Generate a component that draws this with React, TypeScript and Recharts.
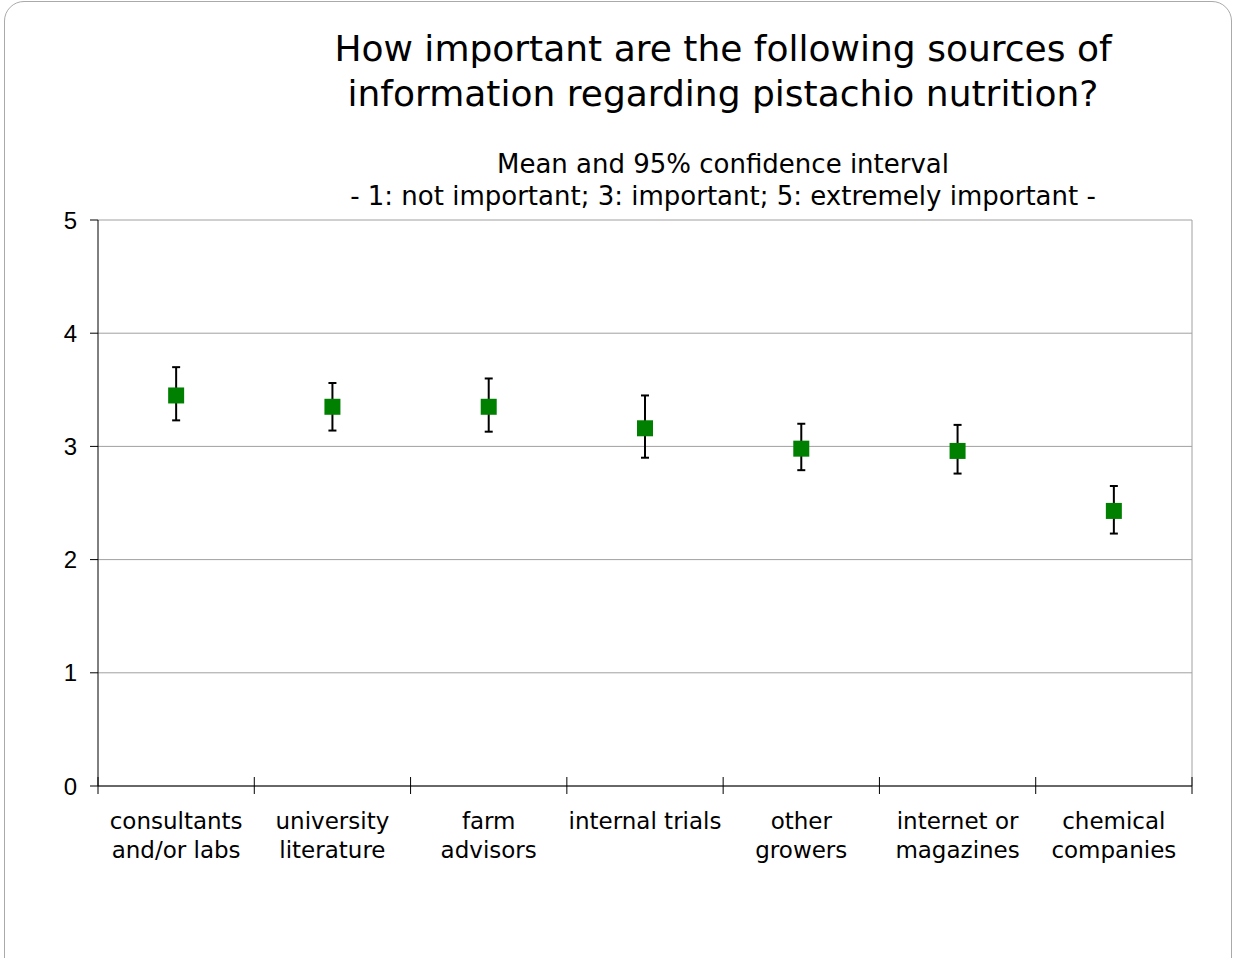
import { ComposedChart, Line, ErrorBar, XAxis, YAxis, CartesianGrid, ReferenceLine } from 'recharts'

const categories = [
  'consultants\nand/or labs',
  'university\nliterature',
  'farm\nadvisors',
  'internal trials',
  'other\ngrowers',
  'internet or\nmagazines',
  'chemical\ncompanies',
]
const means = [3.45, 3.35, 3.35, 3.16, 2.98, 2.96, 2.43]
const upper = [3.70, 3.56, 3.60, 3.45, 3.20, 3.19, 2.65]
const lower = [3.23, 3.14, 3.13, 2.90, 2.79, 2.76, 2.23]
const yTicks = [0, 1, 2, 3, 4, 5]
const boundaryTicks = [0, 1, 2, 3, 4, 5, 6, 7]

const data = categories.map((name, i) => ({
  name,
  pos: i + 0.5,
  mean: means[i],
  err: [means[i] - lower[i], upper[i] - means[i]],
}))

const FONT = '"DejaVu Sans", Verdana, sans-serif'
const blank = () => ''

function SquareDot(props: any) {
  const { cx, cy } = props
  if (cx == null || cy == null) return null
  return <rect x={cx - 8} y={cy - 8} width={16} height={16} fill="#008000" />
}

function CategoryTick(props: any) {
  const { x, y, payload } = props
  const lines = String(payload.value).split('\n')
  return (
    <text x={x} y={y} textAnchor="middle" fill="#000" fontSize={23} fontFamily={FONT}>
      {lines.map((l, i) => (
        <tspan key={i} x={x} dy={i === 0 ? 42 : 29}>
          {l}
        </tspan>
      ))}
    </text>
  )
}

export default function App() {
  return (
    <div style={{ position: 'absolute', left: 0, top: 0, width: 1233, height: 958, overflow: 'hidden', background: '#fff' }}>
      <div
        style={{
          position: 'absolute',
          left: 4,
          top: 1,
          width: 1226,
          height: 990,
          border: '1.5px solid #aaa',
          borderRadius: 20,
        }}
      />
      <div
        style={{
          position: 'absolute',
          left: 273,
          top: 26,
          width: 900,
          textAlign: 'center',
          fontFamily: FONT,
          fontSize: 36,
          lineHeight: '45px',
          color: '#000',
        }}
      >
        How important are the following sources of
        <br />
        information regarding pistachio nutrition?
      </div>
      <div
        style={{
          position: 'absolute',
          left: 273,
          top: 148,
          width: 900,
          textAlign: 'center',
          fontFamily: FONT,
          fontSize: 26,
          lineHeight: '32px',
          color: '#000',
        }}
      >
        Mean and 95% confidence interval
        <br />- 1: not important; 3: important; 5: extremely important -
      </div>
      <div style={{ position: 'absolute', left: 0, top: 0 }}>
        <ComposedChart
          width={1233}
          height={958}
          data={data}
          margin={{ top: 220, right: 41, left: 19, bottom: 71 }}
        >
          <XAxis
            xAxisId="b"
            dataKey="pos"
            type="number"
            domain={[0, 7]}
            allowDataOverflow
            ticks={boundaryTicks}
            interval={0}
            tickFormatter={blank}
            axisLine={{ stroke: '#000' }}
            tickSize={8}
            height={1}
            tickLine={{ stroke: '#000' }}
          />
          <XAxis
            xAxisId="b2"
            dataKey="pos"
            type="number"
            domain={[0, 7]}
            allowDataOverflow
            ticks={boundaryTicks}
            interval={0}
            tickFormatter={blank}
            axisLine={false}
            mirror
            tickSize={9}
            height={1}
            tickLine={{ stroke: '#000' }}
          />
          <XAxis
            xAxisId="cat"
            dataKey="name"
            type="category"
            scale="band"
            tickLine={false}
            tickSize={0}
            tickMargin={0}
            interval={0}
            height={100}
            axisLine={false}
            tick={<CategoryTick />}
          />
          <YAxis
            yAxisId="vm"
            type="number"
            domain={[0, 5]}
            ticks={yTicks}
            mirror
            tickFormatter={blank}
            axisLine={{ stroke: '#000' }}
            tickSize={8}
            width={1}
            tickLine={{ stroke: '#000' }}
          />
          <YAxis
            yAxisId="v"
            type="number"
            domain={[0, 5]}
            ticks={yTicks}
            width={79}
            tickSize={8}
            tickMargin={13}
            axisLine={false}
            tickLine={{ stroke: '#000' }}
            tick={{ fill: '#000', fontSize: 24, fontFamily: '"Liberation Sans", Arial, sans-serif' }}
          />
          <CartesianGrid xAxisId="cat" yAxisId="v" vertical={false} stroke="#a0a0a0" />
          <ReferenceLine xAxisId="b" yAxisId="v" x={7} stroke="#a0a0a0" />
          <Line
            xAxisId="cat"
            yAxisId="v"
            dataKey="mean"
            stroke="none"
            dot={<SquareDot />}
            activeDot={false}
            isAnimationActive={false}
          >
            <ErrorBar dataKey="err" direction="y" width={4} stroke="#000" strokeWidth={2} />
          </Line>
        </ComposedChart>
      </div>
    </div>
  )
}
